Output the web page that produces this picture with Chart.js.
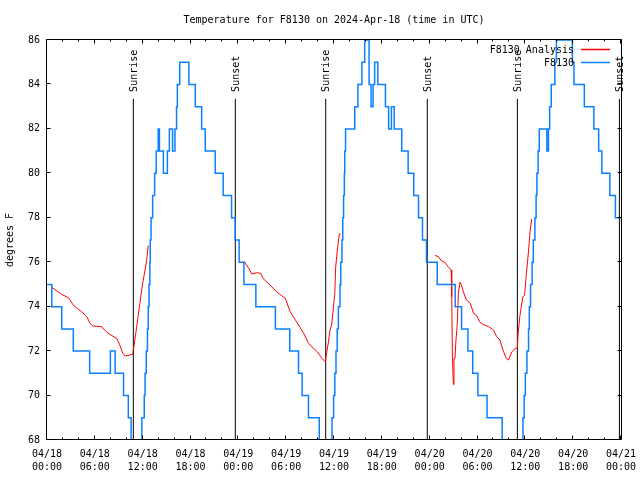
<!DOCTYPE html>
<html>
<head>
<meta charset="utf-8">
<title>Temperature for F8130</title>
<script src="https://cdn.jsdelivr.net/npm/chart.js@4/dist/chart.umd.min.js"></script>
<style>
  html, body { margin: 0; padding: 0; background: #fff; }
  #wrap { width: 640px; height: 480px; }
</style>
</head>
<body>
<div id="wrap"><canvas id="tempChart" width="640" height="480"></canvas></div>
<script>
// horas desde 04/18 00:00 UTC
const obsHours = [0, 0.6, 1.85, 3.3, 5.35, 7.95, 8.55, 9.6, 10.2, 10.55, 10.75, 11.45, 11.9, 12.2, 12.3, 12.45,
  12.6, 12.7, 12.8, 12.9, 12.95, 13.05, 13.25, 13.5, 13.7, 13.95, 14.1, 14.6, 15.1, 15.35, 15.75, 16.05, 16.25,
  16.35, 16.65, 17.8, 18.6, 19.4, 19.85, 21.1, 22.1, 23.15, 23.6, 24.1, 24.7, 26.2, 28.65, 30.45, 31.55, 32.0,
  32.8, 34.15, 35.6, 35.75, 35.95, 36.1, 36.25, 36.4, 36.55, 36.75, 36.85, 37.0, 37.1, 37.2, 37.3, 37.35, 37.45,
  38.6, 39.0, 39.5, 39.85, 40.4, 40.65, 40.9, 41.1, 41.5, 42.45, 42.85, 43.2, 43.55, 44.5, 45.3, 46.0, 46.6,
  47.1, 47.6, 48.95, 51.2, 52.0, 52.8, 53.4, 54.05, 55.2, 57.1, 59.5, 59.7, 59.85, 60.0, 60.2, 60.4, 60.5,
  60.65, 60.85, 61.0, 61.2, 61.35, 61.45, 61.6, 61.75, 62.7, 62.9, 63.05, 63.25, 63.7, 63.9, 65.9, 66.1, 67.4,
  68.6, 69.2, 69.6, 70.6, 71.3, 72];
const obsTemps = [75, 74, 73, 72, 71, 72, 71, 70, 69, 68, 67, 68, 69, 70, 71, 72,
  73, 74, 75, 76, 77, 78, 79, 80, 81, 82, 81, 80, 81, 82, 81, 82, 83,
  84, 85, 84, 83, 82, 81, 80, 79, 78, 77, 76, 75, 74, 73, 72, 71, 70,
  69, 67, 68, 69, 70, 71, 72, 73, 74, 75, 76, 77, 78, 79, 80, 81, 82,
  83, 84, 85, 86, 84, 83, 84, 85, 84, 83, 82, 83, 82, 81, 80, 79, 78,
  77, 76, 75, 74, 73, 72, 71, 70, 69, 67, 68, 69, 70, 71, 72, 73, 74,
  75, 76, 77, 78, 79, 80, 81, 82, 81, 82, 83, 84, 85, 86, 85, 84, 83,
  82, 81, 80, 79, 78, 78];

// análise: null separa os trechos
const anaHours = [0.6, 1.2, 1.85, 2.7, 3.3, 3.7, 4.35, 5.0, 5.4, 5.75, 6.85, 7.5, 7.9, 8.75, 9.1, 9.5, 9.8,
  10.4, 10.75, 10.9, 11.25, 11.65, 12.0, 12.3, 12.5, 12.7,
  18,
  24.7, 25.3, 25.7, 26.3, 26.8, 27.1, 27.9, 28.8, 29.9, 30.5, 31.3, 32.2, 32.8, 33.9, 34.5, 34.9, 35.1, 35.3,
  35.5, 35.7, 35.9, 36.1, 36.2, 36.4, 36.67, 36.84,
  42,
  48.65, 49.1, 49.5, 49.9, 50.3, 50.7, 50.77, 50.85, 50.97, 51.05, 51.17, 51.3, 51.46, 51.6, 51.8, 51.95,
  52.2, 52.6, 53.1, 53.5, 53.9, 54.3, 54.7, 55.4, 56.0, 56.4, 56.8, 57.2, 57.6, 57.9, 58.3, 58.7, 59.0, 59.1,
  59.3, 59.5, 59.7, 59.9, 60.1, 60.4, 60.6, 60.8];
const anaTemps = [74.87, 74.72, 74.55, 74.4, 74.07, 73.95, 73.77, 73.55, 73.25, 73.13, 73.1, 72.85, 72.75, 72.57, 72.3, 71.9, 71.78,
  71.82, 71.87, 72.2, 73.1, 74.15, 75.05, 75.65, 76.1, 76.75,
  null,
  76.05, 75.73, 75.47, 75.53, 75.5, 75.27, 75.0, 74.67, 74.37, 73.77, 73.32, 72.8, 72.35, 71.97, 71.67, 71.52, 71.97, 72.4,
  72.95, 73.17, 73.85, 74.6, 75.73, 76.5, 77.27, 77.27,
  null,
  76.31, 76.25, 76.05, 76.0, 75.8, 75.65, 74.45, 71.83, 70.5, 71.67, 71.67, 72.5, 73.2, 74.6, 75.1, 75.0,
  74.7, 74.3, 74.15, 73.7, 73.6, 73.3, 73.2, 73.1, 72.95, 72.65, 72.5, 72.05, 71.67, 71.6, 71.97, 72.1, 72.15, 72.8,
  73.55, 74.0, 74.45, 74.5, 75.35, 76.5, 77.4, 77.95];

const sunHours = [10.83, 23.62, 34.96, 47.7, 59.0, 71.8];
const sunLabels = ['Sunrise', 'Sunset', 'Sunrise', 'Sunset', 'Sunrise', 'Sunset'];
const sunLineTop = 83.35;

const xTickLabels = [['04/18', '00:00'], ['04/18', '06:00'], ['04/18', '12:00'], ['04/18', '18:00'],
  ['04/19', '00:00'], ['04/19', '06:00'], ['04/19', '12:00'], ['04/19', '18:00'],
  ['04/20', '00:00'], ['04/20', '06:00'], ['04/20', '12:00'], ['04/20', '18:00'], ['04/21', '00:00']];

const FONT = { family: "'DejaVu Sans Mono', monospace", size: 10 };

const sunData = [];
sunHours.forEach(h => {
  sunData.push({ x: h, y: 68 }, { x: h, y: sunLineTop }, { x: h, y: null });
});

// moldura, marcas internas, rótulos do sol e legenda no estilo gnuplot
const gnuplotStyle = {
  id: 'gnuplotStyle',
  afterDraw(chart) {
    const ctx = chart.ctx;
    const a = chart.chartArea;
    const xs = chart.scales.x, ys = chart.scales.y;
    const L = Math.round(a.left) - 0.5, R = Math.round(a.right) + 0.5;
    const T = Math.round(a.top) - 0.5, B = Math.round(a.bottom) - 0.5;
    ctx.save();
    ctx.strokeStyle = '#000';
    ctx.lineWidth = 1;
    ctx.beginPath();
    ctx.rect(L, T, R - L, B - T);
    // x ticks
    for (let h = 0; h <= 72; h += 2) {
      const px = Math.round(xs.getPixelForValue(h)) - 0.5;
      const len = h % 6 === 0 ? 4 : 2;
      ctx.moveTo(px, B); ctx.lineTo(px, B - len);
      ctx.moveTo(px, T); ctx.lineTo(px, T + len);
    }
    // y ticks
    for (let v = 68; v <= 86; v += 2) {
      const py = Math.round(ys.getPixelForValue(v)) - 0.5;
      ctx.moveTo(L, py); ctx.lineTo(L + 4, py);
      ctx.moveTo(R, py); ctx.lineTo(R - 4, py);
    }
    ctx.stroke();

    ctx.fillStyle = '#000';
    ctx.font = "10px 'DejaVu Sans Mono', monospace";
    // Sunrise / Sunset
    sunHours.forEach((h, i) => {
      const px = xs.getPixelForValue(h) + 1;
      const py = ys.getPixelForValue(sunLineTop) - 7;
      ctx.save();
      ctx.translate(px, py);
      ctx.rotate(-Math.PI / 2);
      ctx.textAlign = 'left';
      ctx.textBaseline = 'middle';
      ctx.fillText(sunLabels[i], 0, 0);
      ctx.restore();
    });

    // legenda
    const rows = [
      { text: chart.data.datasets[1].label, color: chart.data.datasets[1].borderColor },
      { text: chart.data.datasets[0].label, color: chart.data.datasets[0].borderColor }
    ];
    ctx.textAlign = 'right';
    ctx.textBaseline = 'middle';
    rows.forEach((r, i) => {
      const y = a.top + 10 + i * 13;
      ctx.fillStyle = '#000';
      ctx.fillText(r.text, 574, y);
      ctx.strokeStyle = r.color;
      ctx.lineWidth = 1.5;
      ctx.beginPath();
      ctx.moveTo(581, Math.round(y) - 0.5);
      ctx.lineTo(610, Math.round(y) - 0.5);
      ctx.stroke();
    });
    ctx.restore();
  }
};

const tempChart = new Chart(document.getElementById('tempChart'), {
  type: 'line',
  data: {
    datasets: [{
      label: 'F8130',
      data: obsHours.map((h, i) => ({ x: h, y: obsTemps[i] })),
      borderColor: 'rgb(10, 128, 255)',
      borderWidth: 1.5,
      stepped: true,
      pointRadius: 0,
      fill: false
    }, {
      label: 'F8130 Analysis',
      data: anaHours.map((h, i) => ({ x: h, y: anaTemps[i] })),
      borderColor: 'rgb(255, 0, 0)',
      borderWidth: 1,
      pointRadius: 0,
      spanGaps: false,
      tension: 0,
      fill: false
    }, {
      label: 'sun',
      data: sunData,
      borderColor: '#000',
      borderWidth: 1,
      pointRadius: 0,
      spanGaps: false,
      fill: false
    }]
  },
  options: {
    responsive: false,
    animation: false,
    devicePixelRatio: 1,
    events: [],
    layout: { padding: { left: 0, right: 19, top: 0, bottom: 0 } },
    plugins: {
      legend: { display: false },
      tooltip: { enabled: false },
      title: {
        display: true,
        fullSize: false,
        text: 'Temperature for F8130 on 2024-Apr-18 (time in UTC)',
        color: '#000',
        font: { ...FONT, weight: 'normal' },
        padding: { top: 14, bottom: 14 }
      }
    },
    scales: {
      x: {
        type: 'linear',
        min: 0,
        max: 72,
        afterFit: s => { s.height = 40; s.paddingLeft = 0; s.paddingRight = 0; },
        grid: { display: false, drawTicks: false },
        border: { display: false },
        ticks: {
          stepSize: 6,
          autoSkip: false,
          maxRotation: 0,
          padding: 8,
          color: '#000',
          font: { ...FONT, lineHeight: 1.3 },
          callback: v => xTickLabels[Math.round(v / 6)]
        }
      },
      y: {
        min: 68,
        max: 86,
        afterFit: s => { s.width = 47; s.paddingTop = 0; s.paddingBottom = 0; },
        grid: { display: false, drawTicks: false },
        border: { display: false },
        ticks: { stepSize: 2, padding: 7, color: '#000', font: FONT },
        title: { display: true, text: 'degrees F', color: '#000', font: FONT, padding: { top: 4, bottom: 0 } }
      }
    }
  },
  plugins: [gnuplotStyle]
});
</script>
</body>
</html>
